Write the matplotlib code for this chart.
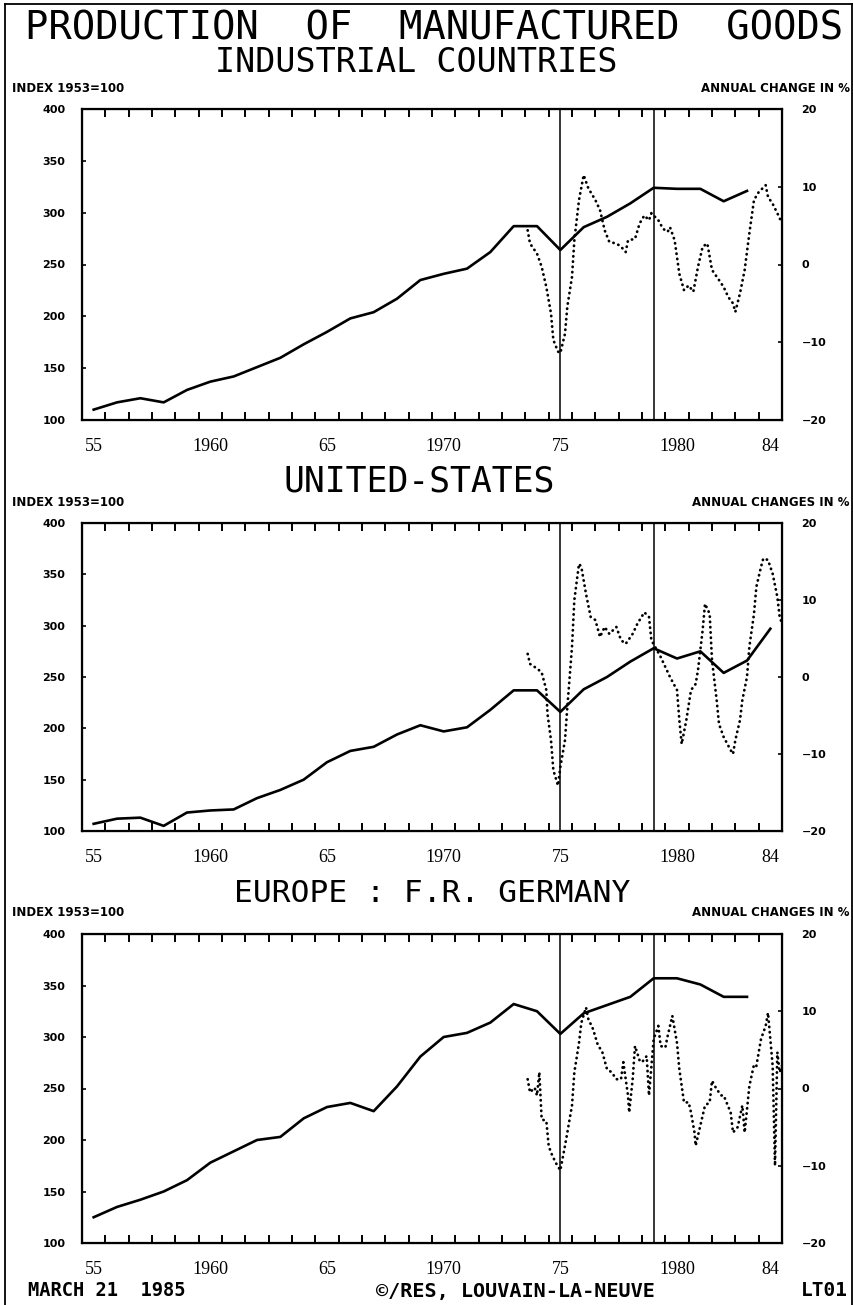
import numpy as np
import matplotlib
matplotlib.use('Agg')
import matplotlib.pyplot as plt
from matplotlib.lines import Line2D

# index values, 1953 = 100 (annual)
ind_years = list(range(1955, 1984))
ind_index = [110, 117, 121, 117, 129, 137, 142, 151, 160, 173, 185, 198, 204, 217, 235,
             241, 246, 262, 287, 287, 264, 286, 296, 309, 324, 323, 323, 311, 321]

us_years = list(range(1955, 1985))
us_index = [107, 112, 113, 105, 118, 120, 121, 132, 140, 150, 167, 178, 182, 194, 203,
            197, 201, 218, 237, 237, 216, 238, 250, 265, 278, 268, 275, 254, 266, 297]

de_years = list(range(1955, 1984))
de_index = [125, 135, 142, 150, 161, 178, 189, 200, 203, 221, 232, 236, 228, 252, 281,
            300, 304, 314, 332, 325, 303, 323, 331, 339, 357, 357, 351, 339, 339]

# annual change in % (read about monthly from the chart)
ind_chg_t = [1973.6, 1973.7, 1974.0, 1974.2, 1974.4, 1974.6, 1974.7, 1974.9, 1975.0, 1975.2,
             1975.3, 1975.5, 1975.6, 1975.8, 1976.0, 1976.2, 1976.5, 1976.7, 1976.9, 1977.1,
             1977.4, 1977.6, 1977.8, 1977.9, 1978.2, 1978.4, 1978.6, 1978.8, 1978.9, 1979.2,
             1979.4, 1979.6, 1979.7, 1979.9, 1980.1, 1980.3, 1980.5, 1980.7, 1980.9, 1981.1,
             1981.3, 1981.5, 1981.8, 1982.0, 1982.2, 1982.4, 1982.5, 1982.7, 1982.9, 1983.1,
             1983.3, 1983.5, 1983.8, 1983.9, 1984.1, 1984.3, 1984.5]
ind_chg_v = [4.4, 2.7, 1.4, -0.3, -2.9, -6.3, -9.7, -11.2, -11.4, -8.9,
             -5.4, -1.6, 3.1, 8.3, 11.5, 9.8, 8.3, 7.0, 4.4, 2.9,
             2.7, 2.3, 1.6, 3.1, 3.3, 5.3, 6.3, 5.7, 6.6, 5.7,
             4.6, 4.2, 4.8, 3.1, -1.2, -3.3, -2.7, -3.5, -0.3, 2.3,
             2.7, -0.7, -2.0, -2.9, -4.2, -5.0, -6.1, -3.7, -0.7, 4.0,
             8.3, 9.3, 10.2, 8.7, 7.8, 6.6, 5.3]

us_chg_t = [1973.6, 1973.7, 1973.85, 1974.0, 1974.2, 1974.4, 1974.45, 1974.6, 1974.7, 1974.9,
            1975.0, 1975.2, 1975.3, 1975.5, 1975.6, 1975.8, 1975.9, 1976.1, 1976.3, 1976.5,
            1976.7, 1976.9, 1977.1, 1977.4, 1977.6, 1977.8, 1978.1, 1978.3, 1978.6, 1978.8,
            1978.9, 1979.1, 1979.3, 1979.5, 1979.7, 1980.0, 1980.1, 1980.2, 1980.4, 1980.6,
            1980.8, 1980.9, 1981.1, 1981.2, 1981.4, 1981.5, 1981.7, 1981.8, 1982.0, 1982.3,
            1982.4, 1982.5, 1982.7, 1982.8, 1983.0, 1983.1, 1983.3, 1983.4, 1983.6, 1983.7,
            1983.9, 1984.1, 1984.3, 1984.4, 1984.6]
us_chg_v = [3.0, 1.7, 1.4, 1.1, 0.6, -1.7, -4.8, -8.2, -12.1, -14.1,
            -11.7, -8.2, -3.9, 3.9, 10.0, 14.7, 14.3, 10.8, 7.8, 7.4,
            5.2, 6.5, 5.6, 6.5, 4.8, 4.3, 5.6, 6.9, 8.4, 7.8,
            4.8, 3.7, 2.6, 1.3, 0.0, -1.7, -5.6, -8.7, -5.6, -1.7,
            -0.9, 0.9, 6.1, 9.5, 8.2, 2.2, -3.0, -6.1, -7.8, -9.5,
            -10.0, -8.2, -5.6, -3.0, 0.0, 3.9, 8.2, 11.7, 14.3, 15.4,
            15.2, 13.4, 10.4, 7.8, 6.1]

de_chg_t = [1973.6, 1973.7, 1973.9, 1974.0, 1974.1, 1974.2, 1974.4, 1974.5, 1974.6, 1974.8,
            1975.0, 1975.2, 1975.3, 1975.5, 1975.6, 1975.8, 1975.9, 1976.1, 1976.2, 1976.4,
            1976.6, 1976.8, 1977.0, 1977.2, 1977.4, 1977.6, 1977.7, 1977.9, 1977.95, 1978.1,
            1978.2, 1978.4, 1978.5, 1978.7, 1978.8, 1979.0, 1979.2, 1979.3, 1979.5, 1979.6,
            1979.8, 1980.0, 1980.1, 1980.3, 1980.5, 1980.6, 1980.75, 1980.8, 1981.0, 1981.2,
            1981.4, 1981.5, 1981.7, 1981.9, 1982.0, 1982.3, 1982.4, 1982.6, 1982.8, 1982.9,
            1983.1, 1983.3, 1983.4, 1983.6, 1983.8, 1983.9, 1984.0, 1984.1, 1984.2, 1984.3,
            1984.4, 1984.6]
de_chg_v = [1.2, -0.5, 0.1, -0.9, 2.1, -4.0, -4.2, -7.4, -8.3, -9.6,
            -10.6, -7.4, -5.7, -2.2, 2.1, 5.9, 8.5, 10.5, 9.0, 7.7,
            5.7, 4.7, 2.5, 2.1, 1.2, 1.2, 3.4, -0.9, -3.1, 1.2,
            5.5, 3.6, 3.4, 4.2, -0.9, 6.4, 8.1, 5.5, 5.3, 6.8,
            9.4, 5.9, 2.5, -1.8, -1.8, -3.1, -5.7, -7.4, -4.8, -2.2,
            -1.8, 1.0, -0.1, -0.9, -0.9, -3.1, -5.7, -5.0, -2.2, -5.7,
            0.3, 3.1, 2.9, 6.4, 8.1, 9.8, 6.4, 2.9, -10.0, 4.7,
            2.1, 3.8]

x_label_years = [1955, 1960, 1965, 1970, 1975, 1980, 1984]
x_label_text = ['55', '1960', '65', '1970', '75', '1980', '84']
left_ticks = [100, 150, 200, 250, 300, 350, 400]
right_ticks = [-20, -10, 0, 10, 20]
marker_years = [1975, 1979]

W, H = 854, 1305
fig = plt.figure(figsize=(W / 100, H / 100), dpi=100)

mono = 'DejaVu Sans Mono'


def fy(py):
    return 1 - py / H


def panel(top, bottom, years, index, chg_t, chg_v, title, title_x, title_y, title_size,
          right_label):
    ax = fig.add_axes([82 / W, fy(bottom), 700 / W, (bottom - top) / H])
    ax.plot(years, index, color='black', lw=1.9)
    for v in marker_years:
        ax.axvline(v, color='black', lw=1.1)
    ax.set_xlim(1954.5, 1984.5)
    ax.set_ylim(100, 400)
    ax.set_yticks(left_ticks)
    ax.set_yticklabels([str(t) for t in left_ticks], fontsize=8, fontweight='bold')
    ax.set_xticks(np.arange(1955.5, 1984, 1))
    ax.set_xticklabels([])
    ax.set_xticks(x_label_years, minor=True)
    ax.set_xticklabels(x_label_text, minor=True, fontfamily='Liberation Serif', fontsize=13)
    ax.tick_params(axis='x', which='major', direction='in', top=True, length=6, width=1.4)
    ax.tick_params(axis='x', which='minor', length=0, pad=13)
    ax.tick_params(axis='y', direction='in', length=3, width=1.2, pad=12)
    for s in ax.spines.values():
        s.set_linewidth(1.6)

    ax2 = ax.twinx()
    ax2.plot(chg_t, chg_v, color='black', lw=2.0, ls=(0, (0.1, 1.8)),
             dash_capstyle='round')
    ax2.set_ylim(-20, 20)
    ax2.set_yticks(right_ticks)
    ax2.set_yticklabels([str(t).replace('-', '\u2212') for t in right_ticks],
                        fontsize=8, fontweight='bold')
    ax2.tick_params(axis='y', direction='in', length=3, width=1.2, pad=14)

    fig.text(title_x / W, fy(title_y), title, family=mono, fontsize=title_size,
             ha='center', va='center')
    fig.text(12 / W, fy(top - 21), 'INDEX 1953=100', fontsize=8.5, fontweight='bold',
             ha='left', va='center')
    fig.text(850 / W, fy(top - 21), right_label, fontsize=8.5, fontweight='bold',
             ha='right', va='center')
    return ax


# title
fig.text(434 / W, fy(28), 'PRODUCTION  OF  MANUFACTURED  GOODS', family=mono, fontsize=28,
         ha='center', va='center')

panel(109, 420, ind_years, ind_index, ind_chg_t, ind_chg_v,
      'INDUSTRIAL COUNTRIES', 416, 63, 24, 'ANNUAL CHANGE IN %')
panel(523, 831, us_years, us_index, us_chg_t, us_chg_v,
      'UNITED-STATES', 419, 482, 25, 'ANNUAL CHANGES IN %')
panel(934, 1243, de_years, de_index, de_chg_t, de_chg_v,
      'EUROPE : F.R. GERMANY', 432, 893, 22.5, 'ANNUAL CHANGES IN %')

# footer
fig.text(28 / W, fy(1291), 'MARCH 21  1985', family=mono, fontsize=13.5, fontweight='bold',
         ha='left', va='center')
fig.text(515 / W, fy(1291), '\u00a9/RES, LOUVAIN-LA-NEUVE', family=mono, fontsize=14.5,
         fontweight='bold', ha='center', va='center')
fig.text(848 / W, fy(1291), 'LT01', family=mono, fontsize=14, fontweight='bold',
         ha='right', va='center')

# page frame
for xs, ys in [([5, 5], [4, H]), ([5, 852], [4, 4]), ([852, 852], [4, H])]:
    fig.add_artist(Line2D([x / W for x in xs], [fy(y) for y in ys], color='black', lw=1.3))

fig.savefig('out.png', dpi=100)
